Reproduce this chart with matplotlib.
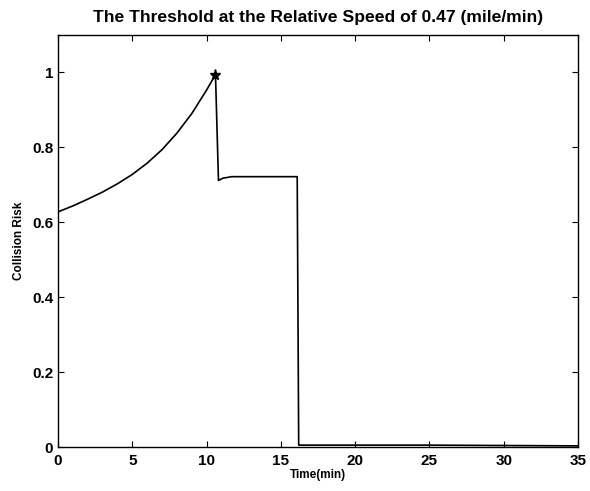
import matplotlib
matplotlib.use("Agg")
import matplotlib.pyplot as plt

# Data
time_min = [0, 1, 2, 3, 4, 5, 6, 7, 8, 9, 10, 10.6, 10.8, 11.1, 11.7, 16.1, 16.2, 25, 30, 35]
risk = [0.627, 0.643, 0.661, 0.680, 0.702, 0.727, 0.757, 0.793, 0.837, 0.889, 0.952, 0.993,
        0.711, 0.717, 0.721, 0.721, 0.005, 0.005, 0.004, 0.003]
peak_time = [10.6]
peak_risk = [0.993]

x_ticks = [0, 5, 10, 15, 20, 25, 30, 35]
y_ticks = [0, 0.2, 0.4, 0.6, 0.8, 1.0]
y_tick_labels = ["0", "0.2", "0.4", "0.6", "0.8", "1"]

plt.rcParams['font.family'] = ['Liberation Sans', 'DejaVu Sans']

fig = plt.figure(figsize=(5.9, 4.91), dpi=100)
ax = fig.add_axes([0.0983, 0.0896, 0.8814, 0.840])
ax.plot(time_min, risk, color='black', lw=1.2)
ax.plot(peak_time, peak_risk, marker='*', color='black', markersize=8, ls='none')

ax.set_xlim(0, 35)
ax.set_ylim(0, 1.1)
ax.set_xticks(x_ticks)
ax.set_yticks(y_ticks)
ax.set_yticklabels(y_tick_labels)
ax.tick_params(direction='in', top=True, right=True, length=4, labelsize=11, width=0.8)
ax.tick_params(axis='x', pad=5)
for lab in ax.get_xticklabels() + ax.get_yticklabels():
    lab.set_fontweight('bold')
for s in ax.spines.values():
    s.set_linewidth(1.0)

ax.set_title("The Threshold at the Relative Speed of 0.47 (mile/min)", fontsize=12.6, fontweight='bold', pad=9)
ax.set_xlabel("Time(min)", fontsize=8.5, fontweight='bold', labelpad=1)
ax.set_ylabel("Collision Risk", fontsize=8.5, fontweight='bold', labelpad=5)

fig.savefig("out.png", dpi=100)
